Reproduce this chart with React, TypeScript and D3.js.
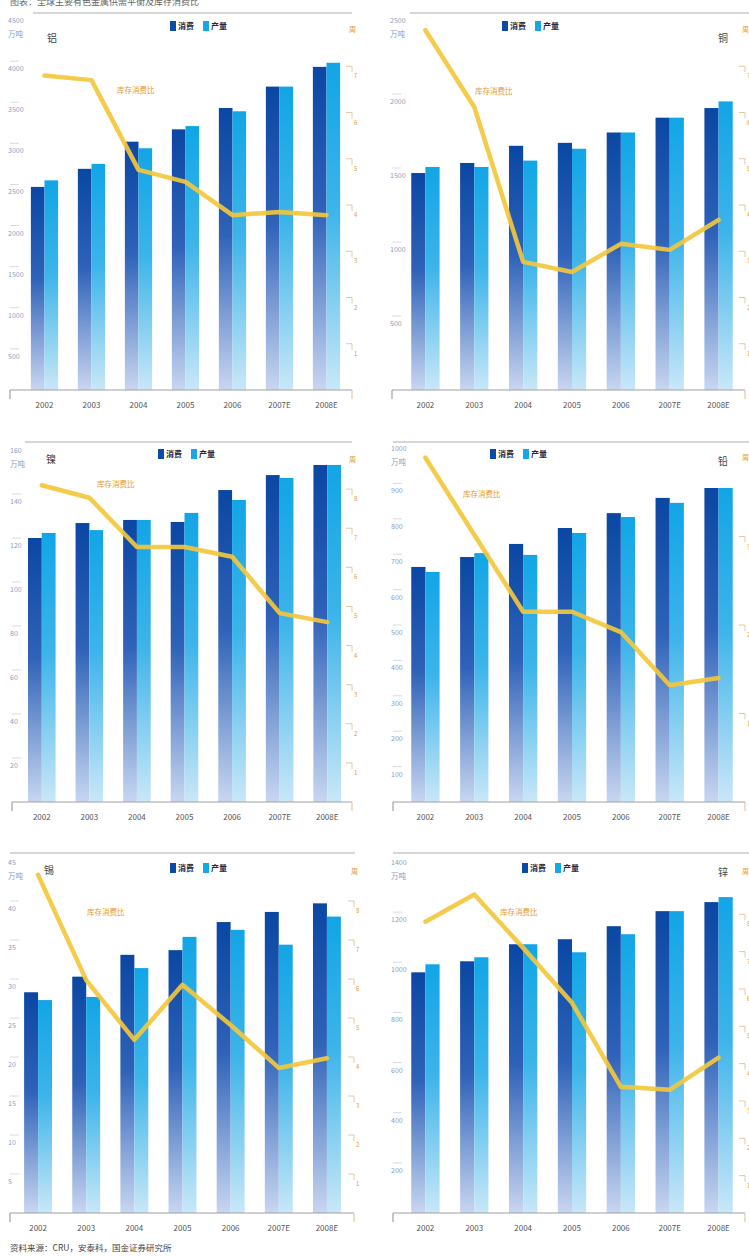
import React from 'react';
import * as d3 from 'd3';

// ---------- data ----------
const years = ['2002', '2003', '2004', '2005', '2006', '2007E', '2008E'];

// 铝 (万吨)
const alCons = [2470, 2690, 3020, 3170, 3430, 3690, 3930];
const alProd = [2550, 2750, 2940, 3210, 3390, 3690, 3980];
const alRatio = [6.8, 6.7, 4.76, 4.5, 3.78, 3.85, 3.78];

// 铜
const cuCons = [1466, 1534, 1650, 1670, 1740, 1840, 1905];
const cuProd = [1507, 1507, 1550, 1630, 1740, 1840, 1950];
const cuRatio = [7.78, 6.12, 2.77, 2.55, 3.16, 3.03, 3.68];

// 镍
const niCons = [120, 126.8, 128.2, 127.3, 141.8, 148.6, 153.2];
const niProd = [122.3, 123.6, 128.2, 131.4, 137.3, 147.3, 153.2];
const niRatio = [8.1, 7.78, 6.52, 6.52, 6.27, 4.83, 4.6];

// 铅
const pbCons = [664, 692, 729, 774, 816, 859, 887];
const pbProd = [650, 703, 698, 760, 805, 845, 887];
const pbRatio = [3.89, 3.02, 2.15, 2.15, 1.92, 1.32, 1.4];

// 锡
const snCons = [28.3, 30.3, 33.1, 33.7, 37.3, 38.6, 39.7];
const snProd = [27.3, 27.7, 31.4, 35.4, 36.3, 34.4, 38.0];
const snRatio = [8.67, 5.97, 4.44, 5.85, 4.82, 3.72, 3.97];

// 锌
const znCons = [960, 1004, 1072, 1092, 1144, 1204, 1240];
const znProd = [992, 1020, 1072, 1040, 1112, 1204, 1260];
const znRatio = [7.8, 8.53, 7.1, 5.63, 3.38, 3.3, 4.16];

const leftTicksAl = [500, 1000, 1500, 2000, 2500, 3000, 3500, 4000, 4500];
const leftTicksCu = [500, 1000, 1500, 2000, 2500];
const leftTicksNi = [20, 40, 60, 80, 100, 120, 140, 160];
const leftTicksPb = [100, 200, 300, 400, 500, 600, 700, 800, 900, 1000];
const leftTicksSn = [5, 10, 15, 20, 25, 30, 35, 40, 45];
const leftTicksZn = [200, 400, 600, 800, 1000, 1200, 1400];

const legendLabels = ['消费', '产量'];
const lineLabel = '库存消费比';
const unitLeft = '万吨';
const unitRight = '周';
const title = '图表：全球主要有色金属供需平衡及库存消费比';
const source = '资料来源：CRU，安泰科，国金证券研究所';

// ---------- layout ----------
type Panel = {
  id: string; name: string; cons: number[]; prod: number[]; ratio: number[];
  leftTicks: number[]; rightMax: number;
  x0: number; x1: number; band: [number, number]; yTop: number; yBot: number;
  rule: [number, number, number]; nameXY: [number, number]; legXY: [number, number]; lblXY: [number, number];
};

const panels: Panel[] = [
  { id: 'al', name: '铝', cons: alCons, prod: alProd, ratio: alRatio, leftTicks: leftTicksAl, rightMax: 8,
    x0: 10, x1: 352, band: [21, 350], yTop: 20, yBot: 390, rule: [33, 352, 13], nameXY: [47, 42], legXY: [170, 29], lblXY: [117, 93] },
  { id: 'cu', name: '铜', cons: cuCons, prod: cuProd, ratio: cuRatio, leftTicks: leftTicksCu, rightMax: 8,
    x0: 392, x1: 745, band: [401, 743], yTop: 20, yBot: 390, rule: [410, 749, 13], nameXY: [718, 42], legXY: [502, 29], lblXY: [475, 94] },
  { id: 'ni', name: '镍', cons: niCons, prod: niProd, ratio: niRatio, leftTicks: leftTicksNi, rightMax: 9,
    x0: 12, x1: 352, band: [18, 351], yTop: 450, yBot: 802, rule: [25, 352, 442], nameXY: [46, 463], legXY: [158, 457], lblXY: [97, 487] },
  { id: 'pb', name: '铅', cons: pbCons, prod: pbProd, ratio: pbRatio, leftTicks: leftTicksPb, rightMax: 4,
    x0: 393, x1: 745, band: [401, 743], yTop: 448, yBot: 802, rule: [393, 749, 442], nameXY: [718, 465], legXY: [490, 457], lblXY: [463, 497] },
  { id: 'sn', name: '锡', cons: snCons, prod: snProd, ratio: snRatio, leftTicks: leftTicksSn, rightMax: 9,
    x0: 10, x1: 354, band: [14, 351], yTop: 862, yBot: 1213, rule: [10, 355, 853], nameXY: [44, 874], legXY: [170, 871], lblXY: [87, 915] },
  { id: 'zn', name: '锌', cons: znCons, prod: znProd, ratio: znRatio, leftTicks: leftTicksZn, rightMax: 9.4,
    x0: 393, x1: 745, band: [401, 743], yTop: 862, yBot: 1213, rule: [393, 749, 853], nameXY: [718, 876], legXY: [522, 871], lblXY: [500, 915] },
];

const FONT = '"Noto Sans CJK SC", "Noto Sans", sans-serif';
const LINE_COLOR = '#f3c73c';
const ORANGE = '#e89a2c';
const AXIS_TEXT = '#8a9cc4';

function ChartPanel({ p }: { p: Panel }) {
  const leftMax = p.leftTicks[p.leftTicks.length - 1];
  const x = d3.scaleBand<string>().domain(years).range(p.band).paddingInner(0.42).paddingOuter(0.21);
  const y = d3.scaleLinear().domain([0, leftMax]).range([p.yBot, p.yTop]);
  const yr = d3.scaleLinear().domain([0, p.rightMax]).range([p.yBot, p.yTop]);
  const bw = x.bandwidth() / 2;
  const line = d3.line<number>()
    .x((_, i) => (x(years[i]) as number) + x.bandwidth() / 2)
    .y((d) => yr(d))
    .curve(d3.curveLinear);
  const rightTicks = d3.range(1, Math.floor(p.rightMax) + 1).filter((t) => yr(t) > p.yTop + 20);
  return (
    <g>
      {/* top rule */}
      <line x1={p.rule[0]} x2={p.rule[1]} y1={p.rule[2]} y2={p.rule[2]} stroke="#c8c8c8" strokeWidth={1.5} />
      {/* left axis ticks & labels */}
      {p.leftTicks.map((t, i) => {
        const isTop = i === p.leftTicks.length - 1;
        return (
          <g key={'l' + t}>
            {!isTop && <line x1={p.x0} x2={p.x0 + 9} y1={y(t)} y2={y(t)} stroke="#d5dbe8" strokeWidth={1} />}
            <text x={p.x0 - 2} y={isTop ? y(t) + 3 : y(t) + 10} fontSize={7} fill={AXIS_TEXT} fontFamily={FONT}>{t}</text>
          </g>
        );
      })}
      <text x={p.x0 - 2} y={p.yTop + 17} fontSize={7.5} fill={AXIS_TEXT} fontFamily={FONT}>{unitLeft}</text>
      {/* right axis */}
      {rightTicks.map((t) => (
        <g key={'r' + t}>
          <line x1={p.x1 - 6} x2={p.x1} y1={yr(t)} y2={yr(t)} stroke="#e3c9a0" strokeWidth={1} />
          <line x1={p.x1} x2={p.x1} y1={yr(t)} y2={yr(t) + 6} stroke="#e3c9a0" strokeWidth={1} />
          <text x={p.x1 + 2} y={yr(t) + 12} fontSize={6} fill={ORANGE} fontFamily={FONT}>{t}</text>
        </g>
      ))}
      <text x={p.x1 - 3} y={p.yTop + 12} fontSize={7} fill={ORANGE} fontFamily={FONT}>{unitRight}</text>
      {/* bars */}
      {years.map((yv, i) => (
        <g key={'b' + yv}>
          <rect x={x(yv)} y={y(p.cons[i])} width={bw} height={p.yBot - y(p.cons[i])} fill="url(#gDark)" />
          <rect x={(x(yv) as number) + bw} y={y(p.prod[i])} width={bw} height={p.yBot - y(p.prod[i])} fill="url(#gLight)" />
        </g>
      ))}
      {/* x axis */}
      <line x1={p.x0} x2={p.x1} y1={p.yBot} y2={p.yBot} stroke="#a0a0a0" strokeWidth={1.2} />
      <line x1={p.x0} x2={p.x0} y1={p.yBot} y2={p.yBot + 9} stroke="#a0a0a0" strokeWidth={1.2} />
      <line x1={p.x1} x2={p.x1} y1={p.yBot} y2={p.yBot + 9} stroke="#e3c9a0" strokeWidth={1.2} />
      {years.map((yv) => (
        <text key={'x' + yv} x={(x(yv) as number) + x.bandwidth() / 2} y={p.yBot + 18} fontSize={8} fill="#555" textAnchor="middle" fontFamily={FONT}>{yv}</text>
      ))}
      {/* ratio line */}
      <path d={line(p.ratio) || ''} fill="none" stroke={LINE_COLOR} strokeWidth={4.5} strokeOpacity={0.92} strokeLinejoin="round" strokeLinecap="round" />
      <text x={p.lblXY[0]} y={p.lblXY[1]} fontSize={7.5} fill={ORANGE} fontFamily={FONT}>{lineLabel}</text>
      {/* legend */}
      <rect x={p.legXY[0]} y={p.legXY[1] - 8} width={6} height={10} fill="#0b4aa6" />
      <text x={p.legXY[0] + 8} y={p.legXY[1]} fontSize={8} fontWeight="bold" fill="#1a2a4a" fontFamily={FONT}>{legendLabels[0]}</text>
      <rect x={p.legXY[0] + 33} y={p.legXY[1] - 8} width={6} height={10} fill="#17a6e6" />
      <text x={p.legXY[0] + 41} y={p.legXY[1]} fontSize={8} fontWeight="bold" fill="#1a2a4a" fontFamily={FONT}>{legendLabels[1]}</text>
      {/* metal name */}
      <text x={p.nameXY[0]} y={p.nameXY[1]} fontSize={10} fill="#444" fontFamily={FONT}>{p.name}</text>
    </g>
  );
}

export default function App() {
  return (
    <div style={{ position: 'absolute', left: 0, top: 0 }}>
      <svg width={749} height={1257} style={{ display: 'block', background: '#fff' }}>
        <defs>
          <linearGradient id="gDark" x1="0" y1="0" x2="0" y2="1">
            <stop offset="0" stopColor="#0a47a3" />
            <stop offset="0.45" stopColor="#2f62b8" />
            <stop offset="1" stopColor="#c8d6f0" />
          </linearGradient>
          <linearGradient id="gLight" x1="0" y1="0" x2="0" y2="1">
            <stop offset="0" stopColor="#12a5e6" />
            <stop offset="0.45" stopColor="#3db4ea" />
            <stop offset="1" stopColor="#c9e7f8" />
          </linearGradient>
        </defs>
        <text x={10} y={5} fontSize={9} fill="#666" fontFamily={FONT}>{title}</text>
        {panels.map((p) => <ChartPanel key={p.id} p={p} />)}
        <text x={10} y={1251} fontSize={8.5} fill="#444" fontFamily={FONT}>{source}</text>
      </svg>
    </div>
  );
}
